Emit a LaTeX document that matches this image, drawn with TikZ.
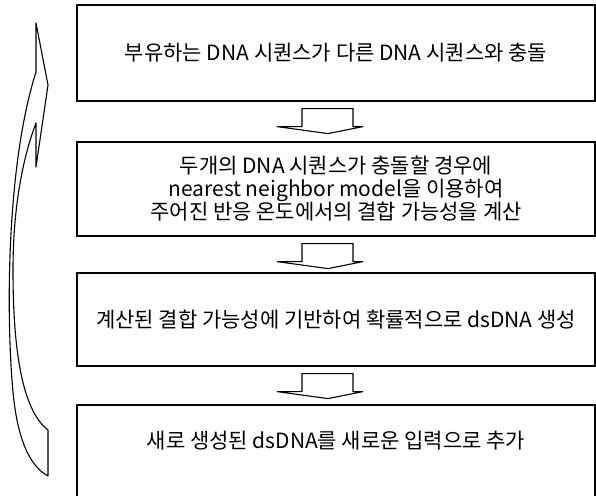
\documentclass[tikz,border=0pt]{standalone}
\usepackage{fontspec}
\setmainfont{Noto Sans CJK KR}
\usetikzlibrary{calc}
\tikzset{
  boxfont/.style={font=\fontsize{21}{23}\selectfont},
  stepbox/.style={draw=black, line width=1.2pt, rectangle, minimum width=518pt, inner sep=0pt, align=center, boxfont},
  blockarrow/.style={draw=black, line width=1.1pt, fill=white, line join=miter},
  loopshape/.style={draw=black, line width=1.1pt, fill=white, line join=round},
}
\begin{document}
\begin{tikzpicture}[x=1pt, y=-1pt]
\useasboundingbox (0,0) rectangle (596,495);
\node[stepbox, minimum height=96pt] (b1) at (336,53) {부유하는 DNA 시퀀스가 다른 DNA 시퀀스와 충돌};
\node[stepbox, minimum height=94pt] (b2) at (336,189) {두개의 DNA 시퀀스가 충돌할 경우에\\nearest neighbor model을 이용하여\\주어진 반응 온도에서의 결합 가능성을 계산};
\node[stepbox, minimum height=93pt] (b3) at (336,319.5) {계산된 결합 가능성에 기반하여 확률적으로 dsDNA 생성};
\node[stepbox, minimum height=92pt] (b4) at (336,451) {};
\node[boxfont, inner sep=0pt] (b4text) at (336,441) {새로 생성된 dsDNA를 새로운 입력으로 추가};
\foreach \a in {b1,b2,b3}{
  \draw[blockarrow] ([shift={(-34,7)}]\a.south) -- ++(51,0) -- ++(0,18) -- ++(10,0) -- ++(-35,7) -- ++(-51,-7) -- ++(25,0) -- cycle;
}
% curved loop arrow on the left
\draw[loopshape] (36,23) -- (48,85) -- (36,167) -- (36,123)
  .. controls (22,160) and (13,210) .. (13,270)
  .. controls (13,350) and (22,410) .. (48,430)
  -- (48,476)
  .. controls (30,466) and (16,440) .. (12,380)
  .. controls (6,300) and (8,160) .. (36,72)
  -- cycle;
\end{tikzpicture}
\end{document}
